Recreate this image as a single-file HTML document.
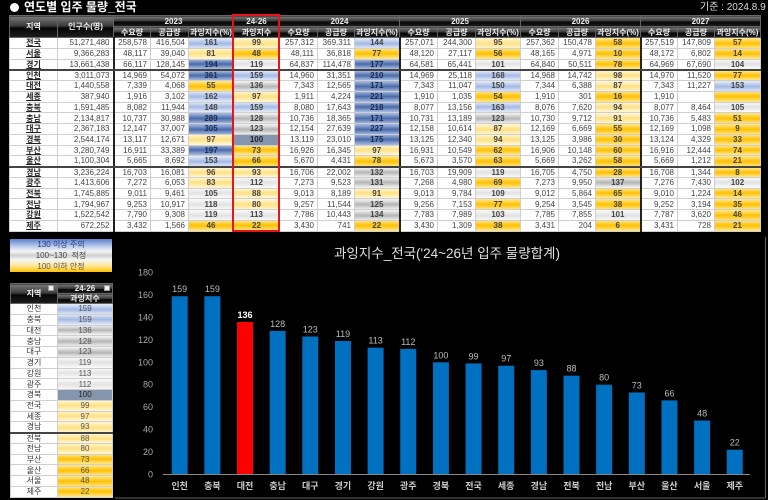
<!DOCTYPE html>
<html><head><meta charset="utf-8">
<style>
*{box-sizing:border-box}
html,body{margin:0;padding:0;background:#000;width:768px;height:500px;overflow:hidden;font-family:"Liberation Sans","Noto Sans CJK KR",sans-serif}
.ttl{position:absolute;left:10px;top:0;height:15px;color:#fff;font-weight:bold;font-size:12px;line-height:15px;white-space:nowrap}
.ttl i{display:inline-block;width:9px;height:9px;border-radius:50%;background:#fff;margin-right:5px;vertical-align:-1px}
.date{position:absolute;left:700px;top:1px;color:#ddd;font-size:10px;line-height:13px;white-space:nowrap}
table{border-collapse:collapse;table-layout:fixed}
table.m{position:absolute;left:9px;top:15px;width:751px}
td,th{padding:0;font-size:8px;line-height:9px;white-space:nowrap;overflow:hidden}
th{color:#eee;font-weight:bold;background:linear-gradient(#7a7a7a,#3a3a3a 45%,#050505 55%,#1e1e1e);border:1px solid #666;height:11px;text-align:center}
table.m td{background:#fff;color:#444;border:1px solid #cfcfcf;height:10.75px;text-align:right;padding-right:3px}
table.m td:nth-child(1){text-align:center;font-weight:bold;text-decoration:underline;color:#222;padding:0}
table.m td:nth-child(5),table.m td:nth-child(6),table.m td:nth-child(9),table.m td:nth-child(12),table.m td:nth-child(15),table.m td:nth-child(18){text-align:center;padding:0;font-weight:bold;color:#444}
table.m td:nth-child(3),table.m td:nth-child(10),table.m td:nth-child(16){border-left:2px solid #222}
table.m tr.t td{border-bottom:2px solid #444}
.B{background:linear-gradient(#a4b8e0,#4a6aa8 50%,#a4b8e0)!important;color:#1a2a50!important}
.b{background:linear-gradient(#e2e9f7,#a3b9e6 50%,#e2e9f7)!important}
.G{background:linear-gradient(#f2f2f2,#b5b5b5 50%,#f2f2f2)!important}
.g{background:linear-gradient(#fafafa,#e2e2e2 50%,#fafafa)!important}
.s{background:#8595ae!important;color:#222!important}
.y{background:linear-gradient(#fff6d5,#ffe082 50%,#fff6d5)!important}
.Y{background:linear-gradient(#ffe68a,#ffc000 50%,#ffe68a)!important}
.red{position:absolute;left:232px;top:14px;width:48px;height:218px;border:2px solid #e8141b}
.leg{position:absolute;left:10px;top:239px;width:102px;height:33px;background:linear-gradient(#5b7fcf 0%,#c8d4ee 25%,#f5f5f5 38%,#cfcfcf 50%,#f5f5f5 62%,#ffe9a0 80%,#ffc000 100%);font-size:8px;line-height:11px;text-align:center}
table.s{position:absolute;left:10px;top:283px;width:102px}
table.s th{height:9.5px;font-size:8px;line-height:9px}
table.s td{background:#fff;color:#333;border:1px solid #cfcfcf;height:10.75px;text-align:center}
table.s td:nth-child(2){color:#555}
table.s tr.t td{border-bottom:2px solid #444}
.dd{position:absolute;width:6px;height:6px;background:#eee;border:1px solid #999}
svg{position:absolute;left:0;top:0}
</style></head><body>
<div class="ttl"><i></i>연도별 입주 물량_전국</div>
<div class="date">기준 : 2024.8.9</div>
<table class="m">
<colgroup><col style="width:48px"><col style="width:56px"><col style="width:37px"><col style="width:38px"><col style="width:45px"><col style="width:46px"><col style="width:38px"><col style="width:37px"><col style="width:45px"><col style="width:38px"><col style="width:38px"><col style="width:45px"><col style="width:38px"><col style="width:37px"><col style="width:45px"><col style="width:37px"><col style="width:37px"><col style="width:46px"></colgroup>
<tr><th rowspan="2">지역</th><th rowspan="2">인구수(명)</th><th colspan="3">2023</th><th>24-26</th><th colspan="3">2024</th><th colspan="3">2025</th><th colspan="3">2026</th><th colspan="3">2027</th></tr>
<tr><th>수요량</th><th>공급량</th><th>과잉지수(%)</th><th>과잉지수</th><th>수요량</th><th>공급량</th><th>과잉지수(%)</th><th>수요량</th><th>공급량</th><th>과잉지수(%)</th><th>수요량</th><th>공급량</th><th>과잉지수(%)</th><th>수요량</th><th>공급량</th><th>과잉지수(%)</th></tr>
<tr><td>전국</td><td>51,271,480</td><td>258,578</td><td>416,504</td><td class="b">161</td><td class="y">99</td><td>257,312</td><td>369,311</td><td class="b">144</td><td>257,071</td><td>244,300</td><td class="y">95</td><td>257,362</td><td>150,478</td><td class="Y">58</td><td>257,519</td><td>147,809</td><td class="Y">57</td></tr>
<tr><td>서울</td><td>9,366,283</td><td>48,117</td><td>39,040</td><td class="y">81</td><td class="Y">48</td><td>48,111</td><td>36,818</td><td class="Y">77</td><td>48,120</td><td>27,117</td><td class="Y">56</td><td>48,165</td><td>4,971</td><td class="Y">10</td><td>48,172</td><td>6,802</td><td class="Y">14</td></tr>
<tr class="t"><td>경기</td><td>13,661,438</td><td>66,117</td><td>128,145</td><td class="B">194</td><td class="g">119</td><td>64,837</td><td>114,478</td><td class="B">177</td><td>64,581</td><td>65,441</td><td class="g">101</td><td>64,840</td><td>50,511</td><td class="Y">78</td><td>64,969</td><td>67,690</td><td class="g">104</td></tr>
<tr><td>인천</td><td>3,011,073</td><td>14,969</td><td>54,072</td><td class="B">361</td><td class="b">159</td><td>14,960</td><td>31,351</td><td class="B">210</td><td>14,969</td><td>25,118</td><td class="b">168</td><td>14,968</td><td>14,742</td><td class="y">98</td><td>14,970</td><td>11,520</td><td class="Y">77</td></tr>
<tr><td>대전</td><td>1,440,558</td><td>7,339</td><td>4,068</td><td class="Y">55</td><td class="G">136</td><td>7,343</td><td>12,565</td><td class="B">171</td><td>7,343</td><td>11,047</td><td class="b">150</td><td>7,344</td><td>6,388</td><td class="y">87</td><td>7,343</td><td>11,227</td><td class="b">153</td></tr>
<tr><td>세종</td><td>387,940</td><td>1,916</td><td>3,102</td><td class="b">162</td><td class="y">97</td><td>1,911</td><td>4,224</td><td class="B">221</td><td>1,910</td><td>1,035</td><td class="Y">54</td><td>1,910</td><td>301</td><td class="Y">16</td><td>1,910</td><td></td><td class="Y"></td></tr>
<tr><td>충북</td><td>1,591,485</td><td>8,082</td><td>11,944</td><td class="b">148</td><td class="b">159</td><td>8,080</td><td>17,643</td><td class="B">218</td><td>8,077</td><td>13,156</td><td class="b">163</td><td>8,076</td><td>7,620</td><td class="y">94</td><td>8,077</td><td>8,464</td><td class="g">105</td></tr>
<tr><td>충남</td><td>2,134,817</td><td>10,737</td><td>30,988</td><td class="B">289</td><td class="G">128</td><td>10,736</td><td>18,365</td><td class="B">171</td><td>10,731</td><td>13,189</td><td class="G">123</td><td>10,730</td><td>9,712</td><td class="y">91</td><td>10,736</td><td>5,483</td><td class="Y">51</td></tr>
<tr><td>대구</td><td>2,367,183</td><td>12,147</td><td>37,007</td><td class="B">305</td><td class="G">123</td><td>12,154</td><td>27,639</td><td class="B">227</td><td>12,158</td><td>10,614</td><td class="y">87</td><td>12,169</td><td>6,669</td><td class="Y">55</td><td>12,169</td><td>1,098</td><td class="Y">9</td></tr>
<tr><td>경북</td><td>2,544,174</td><td>13,117</td><td>12,671</td><td class="y">97</td><td class="s">100</td><td>13,119</td><td>23,010</td><td class="B">175</td><td>13,125</td><td>12,340</td><td class="y">94</td><td>13,125</td><td>3,986</td><td class="Y">30</td><td>13,124</td><td>4,329</td><td class="Y">33</td></tr>
<tr><td>부산</td><td>3,280,749</td><td>16,911</td><td>33,389</td><td class="B">197</td><td class="Y">73</td><td>16,926</td><td>16,345</td><td class="y">97</td><td>16,931</td><td>10,549</td><td class="Y">62</td><td>16,906</td><td>10,148</td><td class="Y">60</td><td>16,916</td><td>12,444</td><td class="Y">74</td></tr>
<tr class="t"><td>울산</td><td>1,100,304</td><td>5,665</td><td>8,692</td><td class="b">153</td><td class="Y">66</td><td>5,670</td><td>4,431</td><td class="Y">78</td><td>5,673</td><td>3,570</td><td class="Y">63</td><td>5,669</td><td>3,262</td><td class="Y">58</td><td>5,669</td><td>1,212</td><td class="Y">21</td></tr>
<tr><td>경남</td><td>3,236,224</td><td>16,703</td><td>16,081</td><td class="y">96</td><td class="y">93</td><td>16,706</td><td>22,002</td><td class="G">132</td><td>16,703</td><td>19,909</td><td class="g">119</td><td>16,705</td><td>4,750</td><td class="Y">28</td><td>16,708</td><td>1,344</td><td class="Y">8</td></tr>
<tr><td>광주</td><td>1,413,606</td><td>7,272</td><td>6,053</td><td class="y">83</td><td class="g">112</td><td>7,273</td><td>9,523</td><td class="G">131</td><td>7,268</td><td>4,980</td><td class="Y">69</td><td>7,273</td><td>9,950</td><td class="G">137</td><td>7,276</td><td>7,430</td><td class="g">102</td></tr>
<tr><td>전북</td><td>1,745,885</td><td>9,011</td><td>9,461</td><td class="g">105</td><td class="y">88</td><td>9,013</td><td>8,189</td><td class="y">91</td><td>9,013</td><td>9,784</td><td class="g">109</td><td>9,012</td><td>5,864</td><td class="Y">65</td><td>9,010</td><td>1,224</td><td class="Y">14</td></tr>
<tr><td>전남</td><td>1,794,967</td><td>9,253</td><td>10,917</td><td class="g">118</td><td class="y">80</td><td>9,257</td><td>11,544</td><td class="G">125</td><td>9,256</td><td>7,153</td><td class="Y">77</td><td>9,254</td><td>3,545</td><td class="Y">38</td><td>9,252</td><td>3,194</td><td class="Y">35</td></tr>
<tr><td>강원</td><td>1,522,542</td><td>7,790</td><td>9,308</td><td class="g">119</td><td class="g">113</td><td>7,786</td><td>10,443</td><td class="G">134</td><td>7,783</td><td>7,989</td><td class="g">103</td><td>7,785</td><td>7,855</td><td class="g">101</td><td>7,787</td><td>3,620</td><td class="Y">46</td></tr>
<tr><td>제주</td><td>672,252</td><td>3,432</td><td>1,566</td><td class="Y">46</td><td class="Y">22</td><td>3,430</td><td>741</td><td class="Y">22</td><td>3,430</td><td>1,309</td><td class="Y">38</td><td>3,431</td><td>204</td><td class="Y">6</td><td>3,431</td><td>728</td><td class="Y">21</td></tr>
</table>
<div class="red"></div>

<div class="leg"><div style="color:#1f3a7a">130 이상 주의</div><div style="color:#444">100~130 &nbsp;적정</div><div style="color:#555">100 이하 안정</div></div>

<table class="s">
<colgroup><col style="width:47px"><col style="width:55px"></colgroup>
<tr><th rowspan="2" style="height:19px">지역</th><th>24-26</th></tr>
<tr><th>과잉지수</th></tr>
<tr><td>인천</td><td class="b">159</td></tr>
<tr><td>충북</td><td class="b">159</td></tr>
<tr><td>대전</td><td class="G">136</td></tr>
<tr><td>충남</td><td class="G">128</td></tr>
<tr><td>대구</td><td class="G">123</td></tr>
<tr><td>경기</td><td class="g">119</td></tr>
<tr><td>강원</td><td class="g">113</td></tr>
<tr><td>광주</td><td class="g">112</td></tr>
<tr><td>경북</td><td class="s">100</td></tr>
<tr><td>전국</td><td class="y">99</td></tr>
<tr><td>세종</td><td class="y">97</td></tr>
<tr class="t"><td>경남</td><td class="y">93</td></tr>
<tr><td>전북</td><td class="y">88</td></tr>
<tr><td>전남</td><td class="y">80</td></tr>
<tr><td>부산</td><td class="Y">73</td></tr>
<tr><td>울산</td><td class="Y">66</td></tr>
<tr><td>서울</td><td class="Y">48</td></tr>
<tr><td>제주</td><td class="Y">22</td></tr>
</table>
<div class="dd" style="left:48px;top:285px"></div>
<div class="dd" style="left:104px;top:285px"></div>

<svg width="768" height="500" viewBox="0 0 768 500" font-family="Liberation Sans, Noto Sans CJK KR, sans-serif">
<line x1="115" y1="498" x2="765" y2="498" stroke="#666" stroke-width="1"/>
<line x1="765.5" y1="237" x2="765.5" y2="498" stroke="#666" stroke-width="1"/>
<text x="447" y="258" font-size="13.5" fill="#e0e0e0" text-anchor="middle">과잉지수_전국('24~26년 입주 물량합계)</text>
<g font-size="9" fill="#aaa" text-anchor="end">
<text x="153" y="477.3">0</text>
<text x="153" y="454.9">20</text>
<text x="153" y="432.5">40</text>
<text x="153" y="410.1">60</text>
<text x="153" y="387.7">80</text>
<text x="153" y="365.3">100</text>
<text x="153" y="342.9">120</text>
<text x="153" y="320.5">140</text>
<text x="153" y="298.1">160</text>
<text x="153" y="275.7">180</text>
</g>
<g fill="#0070c0">
<rect x="171.7" y="296.2" width="16" height="178.1"/>
<rect x="204.35" y="296.2" width="16" height="178.1"/>
<rect x="237" y="322" width="16" height="152.3" fill="#ff0000"/>
<rect x="269.65" y="330.9" width="16" height="143.4"/>
<rect x="302.3" y="336.5" width="16" height="137.8"/>
<rect x="334.95" y="341" width="16" height="133.3"/>
<rect x="367.6" y="347.7" width="16" height="126.6"/>
<rect x="400.25" y="348.9" width="16" height="125.4"/>
<rect x="432.9" y="362.3" width="16" height="112"/>
<rect x="465.55" y="363.4" width="16" height="110.9"/>
<rect x="498.2" y="365.7" width="16" height="108.6"/>
<rect x="530.85" y="370.1" width="16" height="104.2"/>
<rect x="563.5" y="375.7" width="16" height="98.6"/>
<rect x="596.15" y="384.7" width="16" height="89.6"/>
<rect x="628.8" y="392.5" width="16" height="81.8"/>
<rect x="661.45" y="400.4" width="16" height="73.9"/>
<rect x="694.1" y="420.5" width="16" height="53.8"/>
<rect x="726.75" y="449.7" width="16" height="24.6"/>
</g>
<line x1="163" y1="474.5" x2="750" y2="474.5" stroke="#888" stroke-width="1"/>
<g font-size="9" fill="#bbb" text-anchor="middle">
<text x="179.7" y="292.2">159</text>
<text x="212.35" y="292.2">159</text>
<text x="245" y="318" fill="#fff" font-weight="bold">136</text>
<text x="277.65" y="326.9">128</text>
<text x="310.3" y="332.5">123</text>
<text x="342.95" y="337">119</text>
<text x="375.6" y="343.7">113</text>
<text x="408.25" y="344.9">112</text>
<text x="440.9" y="358.3">100</text>
<text x="473.55" y="359.4">99</text>
<text x="506.2" y="361.7">97</text>
<text x="538.85" y="366.1">93</text>
<text x="571.5" y="371.7">88</text>
<text x="604.15" y="380.7">80</text>
<text x="636.8" y="388.5">73</text>
<text x="669.45" y="396.4">66</text>
<text x="702.1" y="416.5">48</text>
<text x="734.75" y="445.7">22</text>
</g>
<g font-size="9" fill="#ccc" font-weight="bold" text-anchor="middle">
<text x="179.7" y="489">인천</text>
<text x="212.35" y="489">충북</text>
<text x="245" y="489">대전</text>
<text x="277.65" y="489">충남</text>
<text x="310.3" y="489">대구</text>
<text x="342.95" y="489">경기</text>
<text x="375.6" y="489">강원</text>
<text x="408.25" y="489">광주</text>
<text x="440.9" y="489">경북</text>
<text x="473.55" y="489">전국</text>
<text x="506.2" y="489">세종</text>
<text x="538.85" y="489">경남</text>
<text x="571.5" y="489">전북</text>
<text x="604.15" y="489">전남</text>
<text x="636.8" y="489">부산</text>
<text x="669.45" y="489">울산</text>
<text x="702.1" y="489">서울</text>
<text x="734.75" y="489">제주</text>
</g>
</svg>
</body></html>
